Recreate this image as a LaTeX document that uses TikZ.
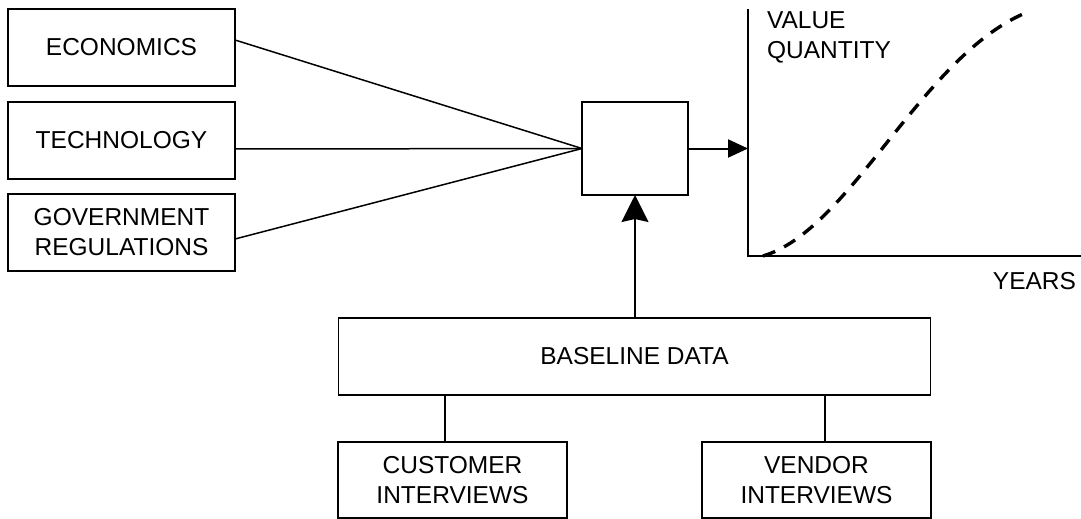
\documentclass[tikz,border=0pt]{standalone}
\usepackage{fontspec}
\setmainfont{Liberation Sans}
\usetikzlibrary{arrows.meta,calc}

\tikzset{
  box/.style={draw, line width=1.6pt, minimum height=77pt, outer sep=0pt,
    inner sep=0pt, align=center, font=\fontsize{24.5}{30}\selectfont},
  link/.style={line width=1.5pt},
  flow/.style={line width=2pt},
  axis/.style={line width=2.2pt},
  lbl/.style={font=\fontsize{24.5}{30}\selectfont, inner sep=0pt, outer sep=0pt},
  trend/.style={line width=3.4pt, dash pattern=on 13pt off 10pt},
}

\begin{document}
\begin{tikzpicture}[x=1pt, y=-1pt]
  \useasboundingbox (0,0) rectangle (1081,519);

  % driving factors
  \node[box, minimum width=227pt] (econ) at (121.5,47.5) {ECONOMICS};
  \node[box, minimum width=227pt] (tech) at (121.5,140.5) {TECHNOLOGY};
  \node[box, minimum width=227pt] (gov)  at (121.5,232.5) {GOVERNMENT\\REGULATIONS};

  % forecasting model
  \node[box, minimum width=106pt, minimum height=93pt] (model) at (635,148.5) {};

  % baseline and its sources
  \node[box, minimum width=592pt] (base) at (634.5,356.5) {BASELINE DATA};
  \node[box, minimum width=229pt, minimum height=76pt] (cust) at (452.5,480) {CUSTOMER\\INTERVIEWS};
  \node[box, minimum width=229pt, minimum height=76pt] (vend) at (816.5,480) {VENDOR\\INTERVIEWS};

  % graph axes
  \coordinate (origin) at (748,256);
  \coordinate (ytop) at (748,9);
  \coordinate (xend) at (1081,256);
  \draw[axis] (ytop) -- (origin) -- (xend);
  \node[lbl, anchor=north west, align=left] (ylab) at (767,12) {VALUE\\QUANTITY};
  \node[lbl, anchor=north east] (xlab) at (1076,272) {YEARS};

  % growth curve
  \coordinate (c0) at (763,256);
  \coordinate (c1) at (1023,14);
  \draw[trend] (c0) .. controls (850,230) and (920,60) .. (c1);

  % factor inputs converge on the model
  \draw[link] ([yshift=7.5pt]econ.east) -- (model.west);
  \draw[link] ([yshift=-8.5pt]tech.east) -- (model.west);
  \draw[link] ([yshift=-6.5pt]gov.east) -- (model.west);

  % model output to graph
  \draw[flow, -{Triangle[length=20pt,width=18pt]}] (model.east) -- (model.east -| origin);

  % baseline feeds the model
  \draw[flow, -{Stealth[length=27pt,width=27pt,inset=3pt]}] (model.south |- base.north) -- (model.south);

  % interview sources
  \draw[link] (cust.north -| 445,0) -- (base.south -| 445,0);
  \draw[link] (vend.north -| 825,0) -- (base.south -| 825,0);
\end{tikzpicture}
\end{document}
